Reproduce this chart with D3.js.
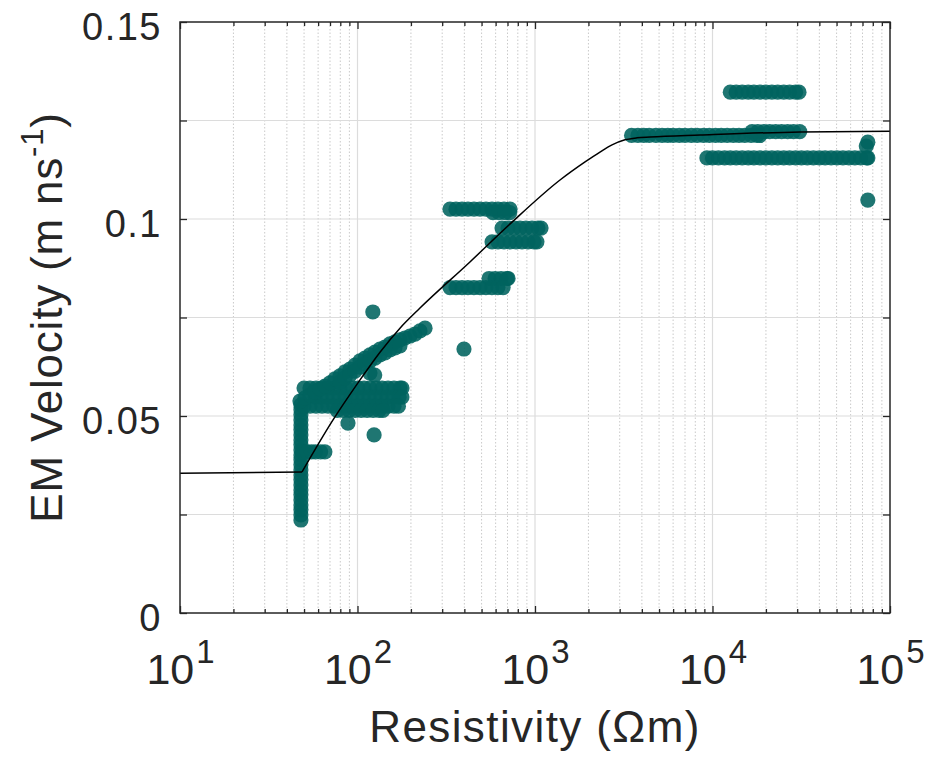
<!DOCTYPE html>
<html>
<head>
<meta charset="utf-8">
<script src="https://cdn.jsdelivr.net/npm/d3@7"></script>
<style>
  html, body { margin: 0; padding: 0; background: #fff; }
  svg { display: block; font-family: "Liberation Sans", Arial, Helvetica, sans-serif; }
</style>
</head>
<body>
<svg id="chart" width="929" height="760"></svg>
<script>
// Measured EM velocity against resistivity, grouped by resistivity range.
// Each entry is [resistivity (Ωm), velocity (m/ns)].
const lowZone = [
  // near-vertical column at ~48 Ωm
  [48,0.0236],[48,0.0249],[48,0.0262],[48,0.0274],[48,0.0287],[48,0.0300],[48,0.0312],[48,0.0325],
  [48,0.0338],[48,0.0350],[48,0.0363],[48,0.0376],[48,0.0389],[48,0.0401],[48,0.0414],[48,0.0427],
  [48,0.0439],[48,0.0452],[48,0.0465],[48,0.0477],[48,0.0490],[48,0.0503],[48,0.0516],[48,0.0528],
  // short run at 0.041
  [49,0.0409],[52,0.0409],[55,0.0409],[58,0.0409],[62,0.0409],[65.5,0.0409],
  // run at 0.057
  [50,0.0571],[54,0.0571],[58.4,0.0571],[63.1,0.0571],[68.2,0.0571],[73.8,0.0571],[79.7,0.0571],
  [86.2,0.0571],[93.2,0.0571],[100.7,0.0571],[108.9,0.0571],[117.7,0.0571],[127.2,0.0571],
  [137.5,0.0571],[148.6,0.0571],[160.6,0.0571],[173.6,0.0571],[178,0.0571],
  // run at 0.055
  [57.7,0.0548],[62.4,0.0548],[67.4,0.0548],[72.9,0.0548],[78.8,0.0548],[85.2,0.0548],[92.1,0.0548],
  [99.5,0.0548],[107.6,0.0548],[116.3,0.0548],[125.7,0.0548],[135.9,0.0548],[146.9,0.0548],
  [158.8,0.0548],[171.6,0.0548],[178,0.0548],
  // run at 0.0525
  [50,0.0525],[54,0.0525],[58.4,0.0525],[63.1,0.0525],[68.2,0.0525],[73.8,0.0525],[79.7,0.0525],
  [86.2,0.0525],[93.2,0.0525],[100.7,0.0525],[108.9,0.0525],[117.7,0.0525],[127.2,0.0525],
  [137.5,0.0525],[148.6,0.0525],[160.6,0.0525],[170,0.0525],
  // run at 0.0514
  [76.8,0.0514],[83,0.0514],[89.7,0.0514],[97,0.0514],[104.8,0.0514],[113.3,0.0514],[122.5,0.0514],
  [132.4,0.0514],[139,0.0514],
  // rising trend, upper trace
  [47.4,0.0538],[50.6,0.0546],[54.0,0.0553],[57.6,0.0561],[61.5,0.0569],[65.6,0.0576],[70.0,0.0584],
  [74.7,0.0594],[79.7,0.0602],[85.1,0.0612],[90.7,0.0619],[96.8,0.0629],[103.3,0.0640],[110.2,0.0647],
  [117.6,0.0655],[125.5,0.0662],[133.9,0.0670],[142.8,0.0675],[152.5,0.0683],[162.7,0.0688],
  [173.5,0.0693],[185.2,0.0698],[197.6,0.0703],[210.9,0.0708],[224.9,0.0716],[240.1,0.0723],
  // rising trend, lower trace
  [79.7,0.0586],[85.1,0.0596],[90.7,0.0604],[96.8,0.0614],[103.3,0.0624],[110.2,0.0632],[117.6,0.0640],
  [125.5,0.0647],[133.9,0.0655],[142.8,0.0660],[152.5,0.0668],[162.7,0.0673],[173.5,0.0678],
  // scattered readings
  [117.6,0.0609],[125,0.0604],[88.4,0.0482],[124,0.0452],[122,0.0764]
];

const midZone = [
  // run at 0.1025
  [332,0.1025],[358.9,0.1025],[387.9,0.1025],[419.3,0.1025],[453.2,0.1025],[489.9,0.1025],
  [529.5,0.1025],[572.4,0.1025],[618.7,0.1025],[668.8,0.1025],[723,0.1025],
  [580,0.1016],[627,0.1016],[678,0.1016],[720,0.1016],
  // run at 0.0977
  [652,0.0977],[704.8,0.0977],[761.8,0.0977],[823.4,0.0977],[890,0.0977],[962,0.0977],[1040,0.0977],[1081,0.0977],
  // run at 0.0942
  [573,0.0942],[619,0.0942],[669,0.0942],[724,0.0942],[782,0.0942],[845,0.0942],[914,0.0942],[988,0.0942],[1025,0.0942],
  // run at 0.0849
  [551,0.0849],[596,0.0849],[644,0.0849],[696,0.0849],[705,0.0849],
  // run at 0.0826
  [332,0.0826],[359,0.0826],[388,0.0826],[419,0.0826],[453,0.0826],[490,0.0826],[529,0.0826],
  [572,0.0826],[618,0.0826],[661,0.0826],
  // scattered readings
  [398,0.0670]
];

const highZone = [
  // run at 0.132
  [12600,0.1322],[13600,0.1322],[14700,0.1322],[15900,0.1322],[17100,0.1322],[18500,0.1322],
  [20000,0.1322],[21600,0.1322],[23300,0.1322],[25200,0.1322],[27200,0.1322],[29400,0.1322],[30700,0.1322],
  // run at 0.1212
  [3500,0.1212],[3800,0.1212],[4100,0.1212],[4400,0.1212],[4800,0.1212],[5200,0.1212],[5600,0.1212],
  [6000,0.1212],[6500,0.1212],[7000,0.1212],[7600,0.1212],[8200,0.1212],[8900,0.1212],[9600,0.1212],
  [10400,0.1212],[11200,0.1212],[12100,0.1212],[13100,0.1212],[14100,0.1212],[15200,0.1212],
  [16500,0.1212],[17800,0.1212],[18500,0.1212],
  // run at 0.1222
  [16700,0.1222],[18000,0.1222],[19500,0.1222],[21000,0.1222],[22700,0.1222],[24500,0.1222],
  [26500,0.1222],[28600,0.1222],[31000,0.1222],
  // run at 0.1155
  [9300,0.1155],[10000,0.1155],[10800,0.1155],[11700,0.1155],[12600,0.1155],[13600,0.1155],
  [14700,0.1155],[15900,0.1155],[17100,0.1155],[18500,0.1155],[20000,0.1155],[21600,0.1155],
  [23300,0.1155],[25200,0.1155],[27200,0.1155],[29400,0.1155],[31700,0.1155],[34200,0.1155],
  [37000,0.1155],[40000,0.1155],[43100,0.1155],[46600,0.1155],[50300,0.1155],[54300,0.1155],
  [58700,0.1155],[63400,0.1155],[68400,0.1155],[73900,0.1155],[75000,0.1155],
  // scattered readings
  [75000,0.1195],[73500,0.1185],[75000,0.1048]
];

// Fitted velocity model: constant below the threshold, then a rising branch
const fitFlatResistivity = [10, 48.7];
const fitFlatVelocity    = [0.0355, 0.0358];
const fitResistivity = [48.7, 72.8, 100.6, 133.9, 173.5, 224.9, 430, 742, 1383, 1914, 2323, 2716, 3214, 3758, 4444, 8511, 31120, 100000];
const fitVelocity    = [0.0358, 0.0490, 0.0584, 0.0662, 0.0723, 0.0774, 0.0891, 0.0992, 0.1099, 0.1145, 0.1170, 0.1188, 0.1201, 0.1206, 0.1208, 0.1213, 0.1221, 0.1223];

// Axis ticks
const xDecades = [10, 100, 1000, 10000, 100000];
const xExponents = ["1", "2", "3", "4", "5"];
const yTicks = [0, 0.025, 0.05, 0.075, 0.1, 0.125, 0.15];
const yTickLabels = ["0", "", "0.05", "", "0.1", "", "0.15"];

const margin = { left: 180, right: 890, top: 22, bottom: 613 };
const svg = d3.select("#chart");
const ink = "#262626";

const x = d3.scaleLog().domain([10, 100000]).range([margin.left, margin.right]);
const y = d3.scaleLinear().domain([0, 0.15]).range([margin.bottom, margin.top]);

const xMinor = [];
xDecades.slice(0, -1).forEach(d => { for (let m = 2; m <= 9; m++) xMinor.push(m * d); });

// grid
const grid = svg.append("g");
grid.selectAll(".xminor").data(xMinor).join("line")
  .attr("x1", d => x(d)).attr("x2", d => x(d))
  .attr("y1", margin.top).attr("y2", margin.bottom)
  .attr("stroke", "#c4c4c4").attr("stroke-width", 0.9).attr("stroke-dasharray", "1.5,2");
grid.selectAll(".xmajor").data(xDecades.slice(1, -1)).join("line")
  .attr("x1", d => x(d)).attr("x2", d => x(d))
  .attr("y1", margin.top).attr("y2", margin.bottom)
  .attr("stroke", "#dcdcdc").attr("stroke-width", 1.2);
grid.selectAll(".ymajor").data(yTicks.slice(1, -1)).join("line")
  .attr("x1", margin.left).attr("x2", margin.right)
  .attr("y1", d => y(d)).attr("y2", d => y(d))
  .attr("stroke", "#dcdcdc").attr("stroke-width", 1.2);

// data points
const allPoints = lowZone.concat(midZone, highZone);
svg.append("g").selectAll("circle").data(allPoints).join("circle")
  .attr("cx", d => x(d[0])).attr("cy", d => y(d[1])).attr("r", 7.6)
  .attr("fill", "#00635f").attr("fill-opacity", 0.88);

// fitted curve: straight flat part, smooth rising branch
const flatData = fitFlatResistivity.map((r, i) => [r, fitFlatVelocity[i]]);
const riseData = fitResistivity.map((r, i) => [r, fitVelocity[i]]);
const fitG = svg.append("g").attr("fill", "none").attr("stroke", "#000").attr("stroke-width", 1.5);
fitG.append("path").datum(flatData)
  .attr("d", d3.line().x(d => x(d[0])).y(d => y(d[1])));
fitG.append("path").datum(riseData)
  .attr("d", d3.line().x(d => x(d[0])).y(d => y(d[1])).curve(d3.curveMonotoneX));

// axes (ticks point inward)
function styleAxis(g) {
  g.select(".domain").remove();
  g.selectAll(".tick line").attr("stroke", ink).attr("stroke-width", 1.3);
}
const bottomMajor = svg.append("g").attr("transform", `translate(0,${margin.bottom})`)
  .call(d3.axisBottom(x).tickValues(xDecades).tickSize(-7).tickFormat(() => ""))
  .call(styleAxis);
svg.append("g").attr("transform", `translate(0,${margin.bottom})`)
  .call(d3.axisBottom(x).tickValues(xMinor).tickSize(-4).tickFormat(() => ""))
  .call(styleAxis);
svg.append("g").attr("transform", `translate(0,${margin.top})`)
  .call(d3.axisTop(x).tickValues(xDecades).tickSize(-7).tickFormat(() => ""))
  .call(styleAxis);
svg.append("g").attr("transform", `translate(0,${margin.top})`)
  .call(d3.axisTop(x).tickValues(xMinor).tickSize(-4).tickFormat(() => ""))
  .call(styleAxis);
const leftAxis = svg.append("g").attr("transform", `translate(${margin.left},0)`)
  .call(d3.axisLeft(y).tickValues(yTicks).tickSize(-7).tickPadding(18)
    .tickFormat((d, i) => yTickLabels[i]))
  .call(styleAxis);
svg.append("g").attr("transform", `translate(${margin.right},0)`)
  .call(d3.axisRight(y).tickValues(yTicks).tickSize(-7).tickFormat(() => ""))
  .call(styleAxis);

leftAxis.selectAll(".tick text")
  .attr("fill", ink).attr("font-size", 38).attr("dy", "0.46em")
  .attr("letter-spacing", 1.5)
  .attr("font-family", "'Liberation Sans', Arial, Helvetica, sans-serif");

// decade labels with superscript exponents
bottomMajor.selectAll(".tick").each(function (d, i) {
  const t = d3.select(this).append("text")
    .attr("y", 71).attr("fill", ink).attr("text-anchor", "middle")
    .attr("font-family", "'Liberation Sans', Arial, Helvetica, sans-serif");
  t.append("tspan").attr("font-size", 43).text("10");
  t.append("tspan").attr("font-size", 33).attr("dy", -21).attr("dx", 2).text(xExponents[i]);
});

// box
svg.append("rect")
  .attr("x", margin.left).attr("y", margin.top)
  .attr("width", margin.right - margin.left).attr("height", margin.bottom - margin.top)
  .attr("fill", "none").attr("stroke", ink).attr("stroke-width", 1.5);

// axis titles
svg.append("text")
  .attr("x", (margin.left + margin.right) / 2).attr("y", 742)
  .attr("text-anchor", "middle").attr("font-size", 44).attr("letter-spacing", 1.4).attr("fill", ink)
  .text("Resistivity (Ωm)");

const yTitle = svg.append("text")
  .attr("transform", `translate(62,${(margin.top + margin.bottom) / 2}) rotate(-90)`)
  .attr("text-anchor", "middle").attr("font-size", 44).attr("letter-spacing", 0.8).attr("fill", ink);
yTitle.append("tspan").text("EM Velocity (m ns");
yTitle.append("tspan").attr("font-size", 31).attr("dy", -19).text("-1");
yTitle.append("tspan").attr("dy", 19).text(")");
</script>
</body>
</html>
